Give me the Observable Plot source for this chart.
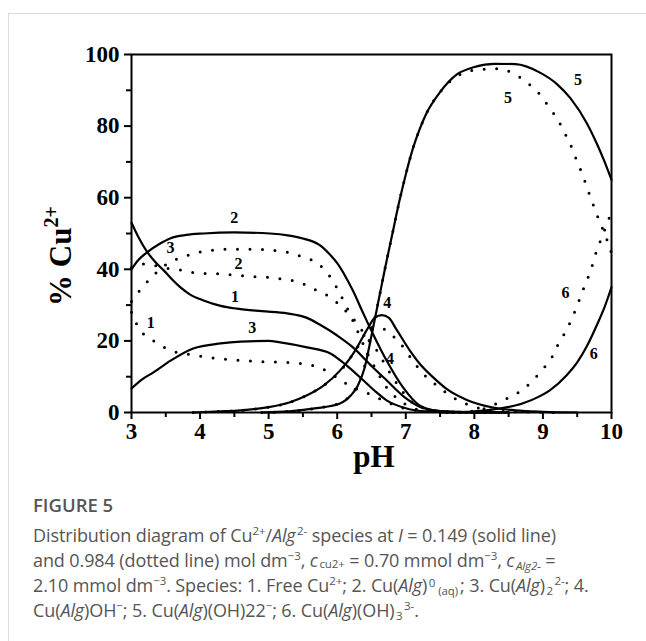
<!DOCTYPE html>
<html><head><meta charset="utf-8">
<script src="https://cdn.jsdelivr.net/npm/d3@7"></script>
<script src="https://cdn.jsdelivr.net/npm/@observablehq/plot@0.6"></script>
<style>
html,body{margin:0;padding:0;background:#fff;}
body{width:646px;height:641px;position:relative;overflow:hidden;}
#card{position:absolute;left:8px;top:13px;width:660px;height:660px;border-top:1.5px solid #dcdcdc;border-left:1.5px solid #dcdcdc;}
#chart{position:absolute;left:0;top:0;}
#cap{position:absolute;left:33px;top:492px;font-family:"Open Sans",sans-serif;color:#555;}
.fig{font-size:18.5px;font-weight:600;line-height:26px;margin-bottom:5px;}
.txt{font-size:18px;line-height:25px;white-space:nowrap;letter-spacing:-0.1px;}
sup,sub{font-size:0.64em;line-height:0;}
sup{vertical-align:7px;}
sub{vertical-align:-3px;}
sub.lo{vertical-align:-1px;}
sup.hi{vertical-align:5px;}
.gap{margin-left:1.5px;}
.aq{margin-left:3px;margin-right:2px;}
</style></head><body>
<div id="card"></div>
<div id="chart"></div>
<div id="cap">
<div class="fig">FIGURE 5</div>
<div class="txt">Distribution diagram of Cu<sup>2+</sup>/<i>Alg</i><sup class="gap">2-</sup> species at <i>I</i> = 0.149 (solid line)<br>
and 0.984 (dotted line) mol dm<sup>−3</sup>, <i>c</i><sub class="gap lo">cu2+</sub> = 0.70 mmol dm<sup>−3</sup>, <i>c<sub class="gap">Alg2-</sub></i> =<br>
2.10 mmol dm<sup>−3</sup>. Species: 1. Free Cu<sup>2+</sup>; 2. Cu(<i>Alg</i>)<sup class="gap hi">0</sup><sub class="aq">(aq)</sub>; 3. Cu(<i>Alg</i>)<sub class="gap">2</sub><sup class="gap">2-</sup>; 4.<br>
Cu(<i>Alg</i>)OH<sup>−</sup>; 5. Cu(<i>Alg</i>)(OH)22<sup>−</sup>; 6. Cu(<i>Alg</i>)(OH)<sub class="gap">3</sub><sup class="gap">3-</sup>.</div>
</div>
<script>
// ---- data (pH, % Cu2+) ----
// Solid lines: I = 0.149
const pH_s1 = [3.0,3.1,3.23,3.35,3.47,3.6,3.71,3.85,4.05,4.3,4.54,4.9,5.27,5.55,5.75,6.0,6.23,6.5,6.72,7.0,7.2,7.5,8.0,8.5];
const v_s1  = [53,49,44.8,42,39.7,37,35,33,31.3,29.8,29,28.3,27.7,26.5,24.5,21.5,18.2,13,9,4,1.6,0.4,0.05,0];
const pH_s2 = [3.0,3.1,3.23,3.4,3.57,3.8,4.05,4.5,5.02,5.3,5.5,5.75,5.9,6.0,6.12,6.23,6.38,6.52,6.72,6.96,7.2,7.5,8.0,8.5];
const v_s2  = [40,42.6,44.8,47,48.7,49.6,50,50.3,50,49.4,48.6,46.7,44,41.7,38,34,27.7,22,14.5,7,2,0.4,0.05,0];
const pH_s3 = [3.0,3.15,3.32,3.57,3.9,4.3,4.59,5.0,5.17,5.56,5.9,6.14,6.38,6.55,6.72,7.0,7.3,7.8,8.5];
const v_s3  = [6.7,9.2,11.2,14.5,17.9,19.3,19.8,20,19.6,18.2,16.5,13.1,9,6,3.4,1.2,0.3,0.02,0];
const pH_s4 = [3.9,4.3,4.59,5.0,5.3,5.56,5.8,6.04,6.2,6.29,6.43,6.55,6.65,6.75,6.87,7.06,7.2,7.4,7.6,7.89,8.27,8.6,9.0,9.5];
const v_s4  = [0,0.3,0.6,1.5,2.8,4.8,7.5,11.7,15.5,18.2,23,26.5,27.2,26.5,23,17.3,13.7,9.8,6.5,3.5,1.4,0.6,0.2,0];
const pH_s5 = [4.9,5.3,5.7,6.04,6.2,6.3,6.4,6.5,6.6,6.7,6.8,6.9,7.0,7.1,7.2,7.3,7.5,7.75,8.0,8.3,8.6,8.95,9.2,9.4,9.64,9.8,9.9,10];
const v_s5  = [0,0.3,1.2,2.5,4.8,7.5,12.5,21.5,31,40.5,49.5,58.5,66.5,73.5,79,83.5,89.5,94.5,96.5,97.4,97.3,95,91.8,87.8,80.8,74.5,70,65];
const pH_s6 = [7.5,7.8,8.0,8.33,8.7,8.95,9.1,9.35,9.5,9.64,9.8,9.9,10];
const v_s6  = [0,0.1,0.3,1.0,2.5,4.5,6.2,10.5,14,18.5,25,29.5,35];
// Dotted lines: I = 0.984
const pH_d1 = [3.0,3.08,3.17,3.28,3.38,3.57,3.75,3.93,4.15,4.4,4.92,5.31,5.6,5.75,5.9,6.07,6.23,6.43,6.67,6.9,7.2,7.6,8.2];
const v_d1  = [28,24.5,22,20.5,19.3,17.3,16.5,16,15.3,14.8,14.2,13.9,13.3,12.5,11,8.8,7,5.5,3.4,1.6,0.5,0.1,0];
const pH_d2 = [3.0,3.1,3.2,3.35,3.52,3.76,3.96,4.3,4.73,5.12,5.5,5.71,5.9,6.09,6.29,6.43,6.58,6.72,6.87,7.06,7.3,7.6,8.2];
const v_d2  = [40.5,41.2,41.5,41,40.3,39.7,38.9,38.7,38,37.5,36,34,32.2,29,24.9,21,17.3,12.6,8.1,3.4,1,0.2,0];
const pH_d3 = [3.0,3.16,3.32,3.45,3.6,3.74,3.9,4.1,4.3,4.69,5.07,5.27,5.5,5.71,5.9,6.04,6.14,6.29,6.43,6.58,6.72,6.87,7.06,7.3,7.7];
const v_d3  = [31,35,38.3,40.5,42.5,43.2,44.5,45,45.6,45.6,45.3,44.8,43.4,41.7,37.8,33.2,29.4,23,17,11.5,7,4,1.6,0.4,0];
const pH_d4 = [3.9,4.3,4.59,5.0,5.3,5.56,5.8,6.04,6.2,6.29,6.4,6.5,6.6,6.77,6.92,7.1,7.25,7.45,7.64,7.83,8.03,8.3,8.6,9.3];
const v_d4  = [0,0.3,0.6,1.5,2.8,4.8,7.5,11.5,15.5,18,21.8,23.8,24,22,19.3,14.5,10.9,7.6,4.8,2.8,1.4,0.6,0.2,0];
const pH_d5 = [4.9,5.3,5.7,6.04,6.2,6.3,6.4,6.5,6.6,6.7,6.8,6.9,7.0,7.1,7.2,7.3,7.5,7.75,8.0,8.37,8.56,8.76,8.95,9.1,9.22,9.32,9.42,9.49,9.57,9.64,9.71,9.78,9.85,9.92,10];
const v_d5  = [0,0.3,1.2,2.6,5,7.8,13,22,31,40.5,49.5,58.5,66.5,73.5,79,83.5,89.5,94,95.6,96,94.8,92.3,89,85,81.7,78,74,70.5,66.8,63,59.3,55.6,52.3,49,44.5];
const pH_d6 = [7.6,7.9,8.1,8.42,8.62,8.81,8.98,9.13,9.22,9.34,9.43,9.5,9.58,9.71,9.78,9.85,9.92,10];
const v_d6  = [0,0.2,0.8,3.4,5.3,8.1,11.7,15.4,19,22.9,26.6,29.9,34,40.5,45,48.5,52,56];
// curve number labels
const labelText = ["2","2","1","3","3","1","4","4","5","5","6","6"];
const labelX    = [4.5,4.56,4.51,4.76,3.57,3.28,6.73,6.77,9.51,8.49,9.33,9.74];
const labelY    = [54.5,41.6,32.2,23.5,45.9,24.9,30.5,15.1,92.9,87.8,33.3,16.5];
// ticks
const xTicks = [3,4,5,6,7,8,9,10];
const xMinor = [3.5,4.5,5.5,6.5,7.5,8.5,9.5];
const yTicks = [0,20,40,60,80,100];
const yMinor = [10,30,50,70,90];

// ---- build tables ----
const toRows = (xs, vs, id) => xs.map((x, i) => ({pH: x, v: vs[i], id}));
const solid = [
  ...toRows(pH_s1, v_s1, 1), ...toRows(pH_s2, v_s2, 2), ...toRows(pH_s3, v_s3, 3),
  ...toRows(pH_s4, v_s4, 4), ...toRows(pH_s5, v_s5, 5), ...toRows(pH_s6, v_s6, 6)];
const dotted = [
  ...toRows(pH_d1, v_d1, 1), ...toRows(pH_d2, v_d2, 2), ...toRows(pH_d3, v_d3, 3),
  ...toRows(pH_d4, v_d4, 4), ...toRows(pH_d5, v_d5, 5), ...toRows(pH_d6, v_d6, 6)];
const labels = labelText.map((t, i) => ({t, x: labelX[i], y: labelY[i]}));

const serif = "'Liberation Serif','Times New Roman',serif";
const chart = Plot.plot({
  width: 646, height: 480,
  marginLeft: 131, marginRight: 35, marginTop: 54, marginBottom: 68,
  style: {fontFamily: serif, fontWeight: "bold", fontSize: "23px", color: "black", background: "transparent"},
  x: {domain: [3, 10]},
  y: {domain: [0, 100]},
  marks: [
    Plot.line(solid, {x: "pH", y: "v", z: "id", stroke: "black", strokeWidth: 2.2, curve: "monotone-x"}),
    Plot.line(dotted, {x: "pH", y: "v", z: "id", stroke: "black", strokeWidth: 3, strokeDasharray: "0,12.5", strokeLinecap: "round", curve: "monotone-x"}),
    Plot.text(labels, {x: "x", y: "y", text: "t", fontSize: 16, fontWeight: "bold", fontFamily: serif, fill: "black"}),
    Plot.frame({stroke: "black", strokeWidth: 2}),
    Plot.axisX({ticks: xTicks, tickSize: 7, tickPadding: 3, strokeWidth: 2, fontSize: 23, fontWeight: "bold", label: null, tickFormat: d => String(d)}),
    Plot.axisX({ticks: xMinor, tickSize: 5, strokeWidth: 2, label: null, tickFormat: () => ""}),
    Plot.axisY({ticks: yTicks, tickSize: 7, tickPadding: 5, strokeWidth: 2, fontSize: 23, fontWeight: "bold", label: null, tickFormat: d => String(d)}),
    Plot.axisY({ticks: yMinor, tickSize: 5, strokeWidth: 2, label: null, tickFormat: () => ""})
  ]
});
document.getElementById("chart").appendChild(chart);

// axis titles
const svg = d3.select(chart);
const xs = chart.scale("x"), ys = chart.scale("y");
svg.append("text")
  .attr("x", xs.apply(6.5) + 3).attr("y", ys.apply(0) + 55)
  .attr("text-anchor", "middle")
  .attr("font-family", serif).attr("font-weight", "bold").attr("font-size", 31)
  .attr("fill", "black").text("pH");
const yt = svg.append("text")
  .attr("transform", `translate(71,${(ys.apply(0) + ys.apply(100)) / 2 + 23}) rotate(-90)`)
  .attr("text-anchor", "middle")
  .attr("font-family", serif).attr("font-weight", "bold").attr("font-size", 31)
  .attr("fill", "black");
yt.append("tspan").text("% Cu");
yt.append("tspan").attr("dy", -13).attr("font-size", 20).text("2+");
</script>
</body></html>
